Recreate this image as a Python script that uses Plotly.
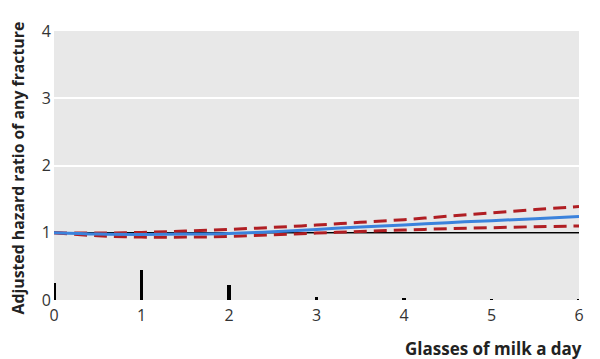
import plotly.graph_objects as go

glasses = [0, 0.5, 1, 1.5, 2, 2.5, 3, 3.5, 4, 4.5, 5, 5.5, 6]
hr = [1.00, 0.98, 0.975, 0.98, 0.99, 1.015, 1.05, 1.085, 1.115, 1.15, 1.18, 1.21, 1.24]
hr_upper = [1.00, 0.995, 1.005, 1.025, 1.05, 1.08, 1.115, 1.155, 1.195, 1.245, 1.295, 1.345, 1.39]
hr_lower = [1.00, 0.955, 0.935, 0.935, 0.945, 0.97, 0.995, 1.02, 1.04, 1.06, 1.075, 1.09, 1.10]
ref_x = [0, 6]
ref_y = [1, 1]
dist_x = [0, 1, 2, 3, 4, 5, 6]
dist_h = [0.25, 0.45, 0.23, 0.04, 0.015, 0.012, 0.01]

red = "#b01e23"
blue = "#3b82dc"
font_fam = "Open Sans, sans-serif"

fig = go.Figure()
fig.add_trace(go.Bar(x=dist_x, y=dist_h, width=0.035, marker=dict(color="black", line=dict(width=0)), showlegend=False))
fig.add_trace(go.Scatter(x=ref_x, y=ref_y, mode="lines", line=dict(color="black", width=1.5), showlegend=False))
fig.add_trace(go.Scatter(x=glasses, y=hr_upper, mode="lines", line=dict(color=red, width=3, dash="13px,7px", shape="spline"), showlegend=False))
fig.add_trace(go.Scatter(x=glasses, y=hr_lower, mode="lines", line=dict(color=red, width=3, dash="13px,7px", shape="spline"), showlegend=False))
fig.add_trace(go.Scatter(x=glasses, y=hr, mode="lines", line=dict(color=blue, width=3, shape="spline"), showlegend=False))

fig.update_layout(
    width=600, height=359,
    margin=dict(l=46, r=29, t=14, b=67),
    plot_bgcolor="#e8e8e8",
    paper_bgcolor="white",
    font=dict(family=font_fam, size=16, color="#333333"),
    bargap=0,
    xaxis=dict(range=[0, 6], tickvals=[0, 1, 2, 3, 4, 5, 6], showgrid=False, zeroline=False,
               ticks="", showline=False, ticklabelstandoff=4, tickfont=dict(size=16, color="#333333")),
    yaxis=dict(range=[0, 4], tickvals=[0, 1, 2, 3, 4], showgrid=True, gridcolor="white", gridwidth=2,
               zeroline=False, ticks="", showline=False, ticklabelstandoff=2, tickfont=dict(size=16, color="#333333")),
)
fig.add_annotation(text="<b>Glasses of milk a day</b>", xref="paper", yref="paper", x=1.0095, y=-0.18,
                   xanchor="right", yanchor="middle", showarrow=False, font=dict(size=17, color="#222222"))
fig.add_annotation(text="<b>Adjusted hazard ratio of any fracture</b>", xref="paper", yref="paper",
                   x=-0.0695, y=0.491, xanchor="center", yanchor="middle", textangle=-90, showarrow=False,
                   font=dict(size=15.8, color="#222222"))
fig.write_html("out.html")
